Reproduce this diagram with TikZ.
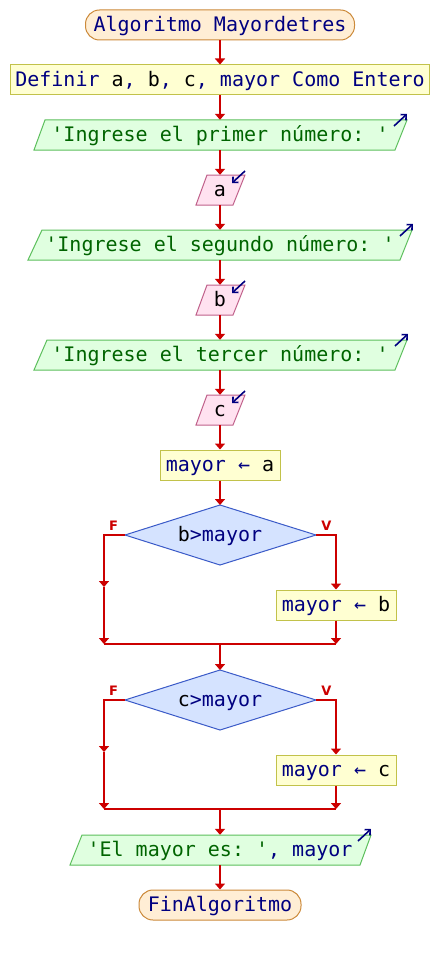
\documentclass[tikz,border=0pt]{standalone}
\usepackage{fontspec}
\setmonofont{DejaVu Sans Mono}
\newfontfamily\labfont{DejaVu Sans}
\usetikzlibrary{arrows.meta}
\definecolor{flowred}{HTML}{CC0000}
\definecolor{navyt}{HTML}{000080}
\definecolor{strgreen}{HTML}{006400}
\definecolor{termfill}{HTML}{FFEED5}
\definecolor{termdraw}{HTML}{CC8A3A}
\definecolor{procfill}{HTML}{FFFFD2}
\definecolor{procdraw}{HTML}{C2C24A}
\definecolor{outfill}{HTML}{E0FFE0}
\definecolor{outdraw}{HTML}{5CBF5C}
\definecolor{infill}{HTML}{FFE2F0}
\definecolor{indraw}{HTML}{C0608A}
\definecolor{decfill}{HTML}{D5E3FF}
\definecolor{decdraw}{HTML}{3A5AC8}
\tikzset{
  txt/.style={inner sep=0pt, minimum height=30pt, text height=14pt, text depth=1.5pt,
    font=\ttfamily\fontsize{20}{24}\selectfont, text=navyt},
  term/.style={txt, draw=termdraw, fill=termfill, line width=1pt, rounded corners=14pt},
  proc/.style={txt, draw=procdraw, fill=procfill, line width=1pt},
  outbox/.style={draw=outdraw, fill=outfill, line width=1pt},
  inbox/.style={draw=indraw, fill=infill, line width=1pt},
  decbox/.style={draw=decdraw, fill=decfill, line width=1pt},
  flow/.style={draw=flowred, line width=2.2pt, -{Triangle[length=6pt,width=10pt]}},
  plain/.style={draw=flowred, line width=2.2pt},
  icon/.style={draw=navyt, line width=1.6pt, -{Straight Barb[length=4pt,width=8pt]}},
  lab/.style={inner sep=0pt, font=\labfont\bfseries\fontsize{13}{15}\selectfont, text=flowred}
}
\newcommand{\vid}[1]{\textcolor{black}{#1}}
\begin{document}
\begin{tikzpicture}[x=1pt,y=-1pt]
\useasboundingbox[fill=white] (0,0) rectangle (440,955);

% start
\node[term, minimum width=269pt] (start) at (220,25) {Algoritmo Mayordetres};
% define
\node[proc, minimum width=419pt] (def) at (220,80) {Definir \vid{a}, \vid{b}, \vid{c}, mayor Como Entero};

% output 1
\filldraw[outbox] (45,120) -- (407,120) -- (395,150) -- (34,150) -- cycle;
\node[txt, text=strgreen] (p1) at (220,135) {'Ingrese el primer número: '};
\draw[icon] (394,126) -- (407,114);
% input a
\filldraw[inbox] (207,175) -- (245,175) -- (233,205) -- (196,205) -- cycle;
\node[txt, text=black] (i1) at (220,190) {a};
\draw[icon] (245,171) -- (232,183);

% output 2
\filldraw[outbox] (42,230) -- (412,230) -- (400,260) -- (28,260) -- cycle;
\node[txt, text=strgreen] (p2) at (220,245) {'Ingrese el segundo número: '};
\draw[icon] (400,236) -- (413,224);
% input b
\filldraw[inbox] (207,285) -- (245,285) -- (233,315) -- (196,315) -- cycle;
\node[txt, text=black] (i2) at (220,300) {b};
\draw[icon] (245,281) -- (232,293);

% output 3
\filldraw[outbox] (47,340) -- (407,340) -- (395,370) -- (34,370) -- cycle;
\node[txt, text=strgreen] (p3) at (220,355) {'Ingrese el tercer número: '};
\draw[icon] (395,346) -- (408,334);
% input c
\filldraw[inbox] (207,395) -- (245,395) -- (233,425) -- (196,425) -- cycle;
\node[txt, text=black] (i3) at (220,410) {c};
\draw[icon] (245,391) -- (232,403);

% mayor <- a
\node[proc, minimum width=120pt] (ma) at (220,465) {mayor ← \vid{a}};

% decision 1
\filldraw[decbox] (220,505) coordinate (d1t) -- (316,535) coordinate (d1r)
  -- (220,565) coordinate (d1b) -- (125,535) coordinate (d1l) -- cycle;
\node[txt] (d1) at (220,535) {\vid{b}>mayor};
\node[lab] (f1) at (113.5,526) {F};
\node[lab] (v1) at (326.5,526) {V};
\node[proc, minimum width=120pt] (mb) at (336,605) {mayor ← \vid{b}};
\coordinate (l1) at (104,587);
\coordinate (l2) at (104,644);
\coordinate (r2) at (336,644);
\coordinate (m1) at (220,644);

% decision 2
\filldraw[decbox] (220,670) coordinate (d2t) -- (316,700) coordinate (d2r)
  -- (220,730) coordinate (d2b) -- (125,700) coordinate (d2l) -- cycle;
\node[txt] (d2) at (220,700) {\vid{c}>mayor};
\node[lab] (f2) at (113.5,691) {F};
\node[lab] (v2) at (326.5,691) {V};
\node[proc, minimum width=120pt] (mc) at (336,770) {mayor ← \vid{c}};
\coordinate (l3) at (104,752);
\coordinate (l4) at (104,809);
\coordinate (r4) at (336,809);
\coordinate (m2) at (220,809);

% output final
\filldraw[outbox] (82,835) -- (371,835) -- (360,865) -- (70,865) -- cycle;
\node[txt] (po) at (220,850) {\textcolor{strgreen}{'El mayor es: '}, mayor};
\draw[icon] (358,841) -- (371,829);

% end
\node[term, minimum width=162pt] (fin) at (220,905) {FinAlgoritmo};

% connectors
\draw[flow] (start.south) -- (def.north);
\draw[flow] (def.south) -- (p1.north);
\draw[flow] (p1.south) -- (i1.north);
\draw[flow] (i1.south) -- (p2.north);
\draw[flow] (p2.south) -- (i2.north);
\draw[flow] (i2.south) -- (p3.north);
\draw[flow] (p3.south) -- (i3.north);
\draw[flow] (i3.south) -- (ma.north);
\draw[flow] (ma.south) -- (d1t);
\draw[flow] (d1l) -| (l1);
\draw[flow] (l1) -- (l2);
\draw[flow] (d1r) -| (mb.north);
\draw[flow] (mb.south) -- (r2);
\draw[plain] (l2) -- (r2);
\draw[flow] (m1) -- (d2t);
\draw[flow] (d2l) -| (l3);
\draw[flow] (l3) -- (l4);
\draw[flow] (d2r) -| (mc.north);
\draw[flow] (mc.south) -- (r4);
\draw[plain] (l4) -- (r4);
\draw[flow] (m2) -- (po.north);
\draw[flow] (po.south) -- (fin.north);
\end{tikzpicture}
\end{document}
